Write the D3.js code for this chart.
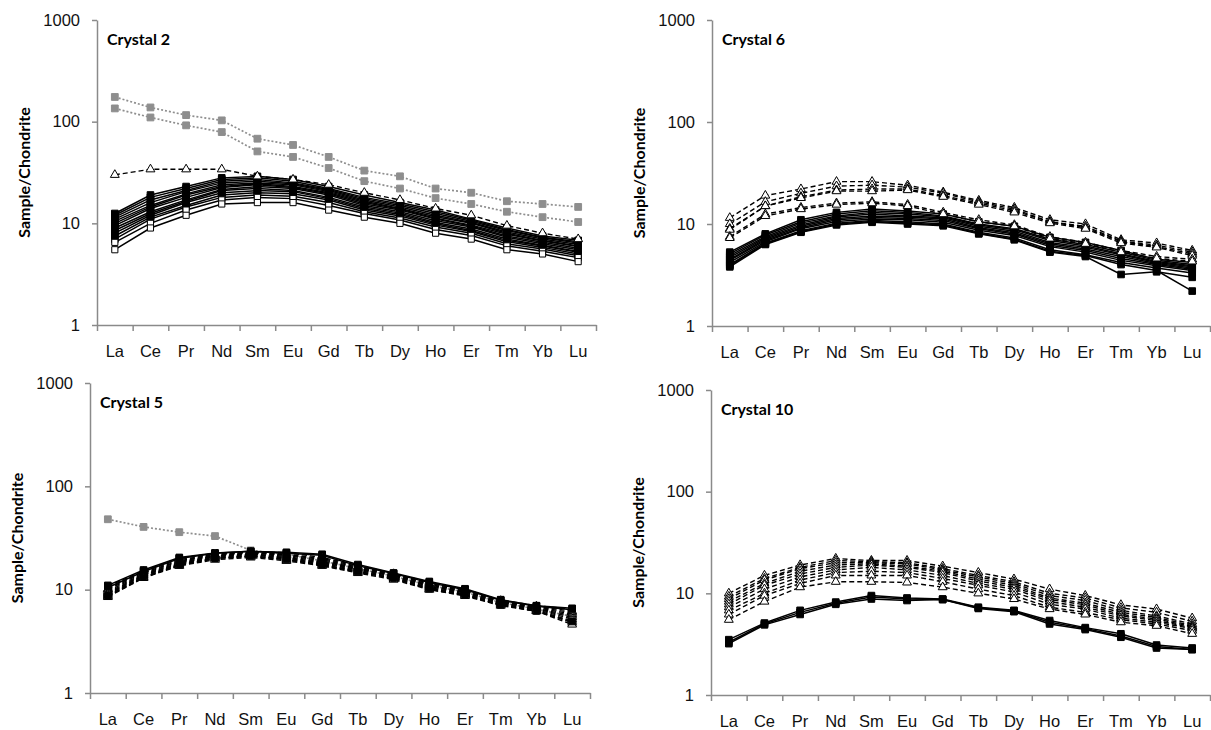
<!DOCTYPE html>
<html>
<head>
<meta charset="utf-8">
<script src="https://cdn.jsdelivr.net/npm/d3@7"></script>
<style>
  body { margin: 0; background: #fff; }
  svg { font-family: Lato, "Open Sans", sans-serif; }
  .axis path, .axis line { stroke: #8a8a8a; stroke-width: 1.5; }
  .axis text { font-size: 16.5px; fill: #111; }
</style>
</head>
<body>
<svg id="chart" width="1211" height="730"></svg>
<script>
var elements = ["La","Ce","Pr","Nd","Sm","Eu","Gd","Tb","Dy","Ho","Er","Tm","Yb","Lu"];
var yTicks = [1, 10, 100, 1000];

// Crystal 2
var c2Grey = [
  [175,138,116,103,68,59,45,33,29,22,20,16.5,15.5,14.5],
  [135,110,92,79,51,45,35,26,22,17.7,15.5,13,11.5,10.3]
];
var c2Dashed = [
  [30,34,34,34,29,27,24,20,17,14,12,9.5,8,7]
];
var c2Solid = [
  [12.5,19,23,28,29,27,23,19,16,13.5,11,9,7.5,6.8],
  [12,18,22,27,28,26,22,18,15.5,13,10.8,8.7,7.3,6.6],
  [11.5,17,21,26,27,25,21.5,17.5,15,12.5,10.5,8.5,7.2,6.4],
  [11,16,20.5,25,26,24.5,21,17,14.5,12,10.2,8.2,7,6.2],
  [10.5,15,19.5,24,25,24,20.5,16.5,14,11.6,10,8,6.8,6],
  [10,14.5,19,23,24.5,23,20,16,13.8,11.2,9.6,7.8,6.7,5.9],
  [9.5,14,18,22.5,24,22.5,19.5,15.5,13.5,11,9.4,7.5,6.5,5.7],
  [9,13,17,21.5,23,22,19,15,13,10.6,9.2,7.3,6.3,5.5],
  [8.5,12.5,16.5,21,22,21,18,14.5,12.6,10.2,8.8,7,6.1,5.3],
  [8,12,16,20,21,20.5,17.5,14,12.2,9.9,8.5,6.8,6,5.2],
  [7.5,11.5,15,19,20,19.5,17,13.5,11.8,9.6,8.3,6.6,5.8,5],
  [7,11,14.5,18,19,18.5,16,13,11.3,9.2,8,6.3,5.6,4.8]
];
var c2Open = [
  [6.5,10,13.5,17,18,17.5,15,12.5,10.8,8.7,7.6,6,5.3,4.6],
  [5.5,9,12,15.5,16,16,13.5,11.5,10,8,7,5.5,5,4.2]
];

// Crystal 6
var c6Dashed = [
  [11.5,19,22,26,26,24,20.5,17,14.5,11,10,7,6.5,5.5],
  [10,16.5,20,23.5,24,23,20,16.5,14,10.5,9.5,6.8,6.2,5.3],
  [9,15,18.5,21.5,22,22,19,16,13.5,10.5,9.2,6.7,6,5.1],
  [8.8,15,18,21,21,21.5,18.5,15.5,13,10.2,9,6.5,5.9,4.9],
  [7.5,12.5,14.5,16,16.5,15.5,13,11,9.8,7.5,6.6,5.5,4.8,4.5],
  [7.3,12,14,15.5,16,15,12.5,10.5,9.5,7.2,6.4,5.3,4.6,4.3]
];
var c6Solid = [
  [5.3,8,11,13,14,13.4,12.5,10.5,9.5,7.4,6.6,5.5,4.5,4.2],
  [5.1,7.8,10.5,12.5,13.5,13,12,10,9,7.1,6.3,5.3,4.4,4],
  [4.9,7.5,10.2,12,13,12.5,11.8,9.8,8.8,6.9,6.1,5.1,4.3,3.9],
  [4.7,7.3,9.8,11.7,12.5,12,11.5,9.5,8.5,6.6,5.9,5,4.2,3.8],
  [4.5,7.1,9.5,11.3,12,11.7,11.2,9.2,8.2,6.4,5.7,4.8,4.1,3.7],
  [4.4,6.9,9.2,11,11.6,11.3,10.8,9,8,6.2,5.5,4.6,4,3.6],
  [4.2,6.7,9,10.6,11.2,11,10.4,8.7,7.7,6,5.3,4.4,3.9,3.5],
  [4,6.5,8.6,10.2,10.8,10.5,10,8.3,7.3,5.6,5,4.2,3.7,3.3],
  [3.8,6.3,8.3,9.8,10.4,10,9.6,8,7,5.3,4.8,3.2,3.4,3],
  [3.9,6.4,8.4,10,10.6,10.2,9.8,8.1,7.1,5.4,4.9,4,3.5,2.2]
];

// Crystal 5
var c5Grey = [
  [48,40.5,36,33,24,22,19,16,13.5,11,9.5,7.5,6.5,5.5]
];
var c5Solid = [
  [11,15.5,20.5,22.7,23.5,23,22,17.5,14.5,12,10.2,8,7,6.6],
  [10.5,15,20,22.5,23.5,22.5,21.5,17,14.3,11.7,10,7.9,6.9,6.4]
];
var c5Dashed = [
  [10.2,15,19.5,22,23,22,20,16.8,14.2,11.5,9.9,7.8,6.9,6.2],
  [10,14.6,19,21.8,22.8,21.8,19.5,16.5,14,11.3,9.7,7.7,6.8,6],
  [9.7,14.3,18.7,21.5,22.5,21.5,19,16.2,13.8,11.1,9.6,7.6,6.7,5.8],
  [9.4,14,18.3,21.2,22.2,21,18.6,16,13.6,10.9,9.4,7.5,6.6,5.6],
  [9.2,13.8,18,21,22,20.5,18.3,15.7,13.4,10.7,9.3,7.4,6.5,5.4],
  [9,13.6,17.8,20.6,21.7,20.2,18,15.4,13.2,10.5,9.1,7.3,6.4,5.2],
  [8.8,13.3,17.5,20.3,21.3,19.8,17.6,15.1,13,10.3,9,7.2,6.3,5],
  [8.6,13.1,17.2,20,21,19.4,17.3,14.8,12.8,10.1,8.8,7.1,6.2,4.8],
  [8.5,13,17,19.5,20.5,19,17,14.5,12.5,10,8.7,7,6.2,4.6]
];
var c5DashedSq = [
  [10.8,15.3,20.2,22.3,23.2,22.8,20.5,17.2,14.4,11.8,10.1,7.9,7,6.5],
  [8.7,13.2,17.4,20.1,21.1,19.6,17.4,14.9,12.9,10.2,8.9,7.1,6.2,4.9]
];

// Crystal 10
var c10Dashed = [
  [10,15,19,22,21,21,18.5,16,13.8,11,9.5,7.7,7,5.7],
  [9.3,14,18,21,20.5,20,17.5,15,13,10,9,7.2,6.5,5.3],
  [8.8,13.5,17.5,20,20,19.5,17,14.5,12.5,9.5,8.5,6.8,6,5],
  [8.3,12.5,16.5,19,19.5,18.5,16.5,13.8,12,9,8,6.5,5.8,4.8],
  [7.8,12,15.5,18,19,18,16,13.2,11.5,8.7,7.7,6.2,5.6,4.7],
  [7.3,11,14.5,17,18,17,15,12.5,11,8.3,7.3,6,5.4,4.6],
  [6.8,10,13.5,16,16.5,16,14,12,10.3,7.8,7,5.7,5.2,4.5],
  [6.2,9.5,12.5,15,15,15,13,11,9.5,7.3,6.5,5.5,5,4.3],
  [5.5,8.3,11.5,13,13,12.8,11.5,10,8.8,7,6.2,5.2,4.8,4]
];
var c10Solid = [
  [3.5,5.1,6.8,8.2,9.5,9,8.8,7.3,6.8,5.4,4.6,4,3.1,2.9],
  [3.3,5,6.5,8,9.2,8.8,8.7,7.2,6.7,5.2,4.5,3.8,3,2.8],
  [3.2,4.9,6.2,7.8,8.8,8.5,8.7,7.1,6.6,5,4.4,3.7,2.9,2.8]
];

var styles = {
  grey:     { stroke: "#8e8e8e", dash: "2,2", width: 1.7, symbol: d3.symbolSquare,   fill: "#8e8e8e", mstroke: "#8e8e8e", size: 46 },
  solid:    { stroke: "#000",    dash: null,  width: 1.5, symbol: d3.symbolSquare,   fill: "#000",    mstroke: "#000",    size: 44 },
  open:     { stroke: "#000",    dash: null,  width: 1.5, symbol: d3.symbolSquare,   fill: "#fff",    mstroke: "#000",    size: 38 },
  dashed:   { stroke: "#000",    dash: "5,3", width: 1.4, symbol: d3.symbolTriangle, fill: "#fff",    mstroke: "#000",    size: 34 },
  dashedSq: { stroke: "#000",    dash: "5,3", width: 1.4, symbol: d3.symbolSquare,   fill: "#000",    mstroke: "#000",    size: 40 }
};

var panels = [
  { title: "Crystal 2",  x0: 97,  x1: 596,  y0: 20,  y1: 325,
    groups: [[c2Grey, "grey"], [c2Solid, "solid"], [c2Open, "open"], [c2Dashed, "dashed"]] },
  { title: "Crystal 6",  x0: 712, x1: 1210, y0: 20,  y1: 326,
    groups: [[c6Solid, "solid"], [c6Dashed, "dashed"]] },
  { title: "Crystal 5",  x0: 90,  x1: 590,  y0: 383, y1: 693,
    groups: [[c5Grey, "grey"], [c5Solid, "solid"], [c5Dashed, "dashed"], [c5DashedSq, "dashedSq"]] },
  { title: "Crystal 10", x0: 711, x1: 1210, y0: 390, y1: 695,
    groups: [[c10Dashed, "dashed"], [c10Solid, "solid"]] }
];

var svg = d3.select("#chart");

panels.forEach(function(p) {
  var g = svg.append("g");

  var x = d3.scaleBand().domain(elements).range([p.x0, p.x1]);
  var xTick = d3.scaleLinear().domain([0, elements.length]).range([p.x0, p.x1]);
  var y = d3.scaleLog().domain([1, 1000]).range([p.y1, p.y0]);

  // tick marks between categories
  g.append("g")
      .attr("class", "axis")
      .attr("transform", "translate(0," + p.y1 + ")")
      .call(d3.axisBottom(xTick).ticks(elements.length).tickSize(6).tickSizeOuter(0).tickFormat(""));

  // category labels
  var xl = g.append("g")
      .attr("class", "axis")
      .attr("transform", "translate(0," + p.y1 + ")")
      .call(d3.axisBottom(x).tickSize(0).tickPadding(20));
  xl.select(".domain").remove();

  g.append("g")
      .attr("class", "axis")
      .attr("transform", "translate(" + p.x0 + ",0)")
      .call(d3.axisLeft(y).tickValues(yTicks).tickFormat(d3.format("d")).tickSize(5).tickSizeOuter(0).tickPadding(12));

  g.append("text")
      .attr("transform", "translate(" + (p.x0 - 73) + "," + ((p.y0 + p.y1) / 2) + ") rotate(-90)")
      .attr("text-anchor", "middle")
      .attr("dy", "0.35em")
      .style("font-size", "16px")
      .style("font-weight", "bold")
      .text("Sample/Chondrite");

  g.append("text")
      .attr("x", p.x0 + 10)
      .attr("y", p.y0 + 25)
      .style("font-size", "16px")
      .style("font-weight", "bold")
      .text(p.title);

  var line = d3.line()
      .x(function(d, i) { return x(elements[i]) + x.bandwidth() / 2; })
      .y(function(d) { return y(d); });

  p.groups.forEach(function(gr) {
    var st = styles[gr[1]];
    gr[0].forEach(function(series) {
      g.append("path")
          .datum(series)
          .attr("fill", "none")
          .attr("stroke", st.stroke)
          .attr("stroke-width", st.width)
          .attr("stroke-dasharray", st.dash)
          .attr("d", line);

      g.selectAll(null)
          .data(series)
        .enter().append("path")
          .attr("transform", function(d, i) {
            return "translate(" + (x(elements[i]) + x.bandwidth() / 2) + "," + y(d) + ")";
          })
          .attr("d", d3.symbol().type(st.symbol).size(st.size))
          .attr("fill", st.fill)
          .attr("stroke", st.mstroke)
          .attr("stroke-width", 1);
    });
  });
});
</script>
</body>
</html>
